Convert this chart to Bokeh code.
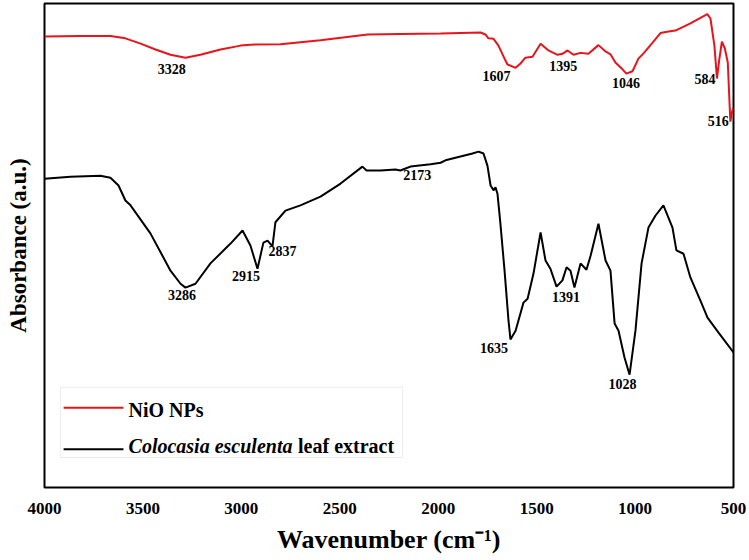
from bokeh.plotting import figure
from bokeh.models import Range1d, FixedTicker, Label, BoxAnnotation
from bokeh.embed import file_html
from bokeh.resources import INLINE

# FTIR spectra: wavenumber (cm^-1) and absorbance (a.u.)
nio_wavenumber = [4000, 3817, 3665, 3589, 3512, 3436, 3360, 3284, 3208, 3106, 3004, 2954,
                  2801, 2598, 2359, 2192, 1988, 1785, 1760, 1745, 1719, 1694, 1663, 1648,
                  1607, 1582, 1557, 1521, 1480, 1440, 1394, 1369, 1343, 1313, 1277, 1237,
                  1186, 1150, 1125, 1100, 1064, 1044, 1013, 983, 957, 911, 871, 830, 795,
                  719, 633, 617, 597, 584, 573, 559, 544, 529, 516, 506, 500]
nio_absorbance = [0.932, 0.933, 0.933, 0.928, 0.917, 0.905, 0.894, 0.888, 0.894, 0.905, 0.913, 0.915,
                  0.916, 0.924, 0.936, 0.937, 0.938, 0.940, 0.936, 0.928, 0.927, 0.913, 0.886, 0.874,
                  0.867, 0.876, 0.888, 0.890, 0.917, 0.903, 0.894, 0.896, 0.903, 0.894, 0.898, 0.896,
                  0.914, 0.901, 0.895, 0.878, 0.864, 0.855, 0.860, 0.886, 0.897, 0.919, 0.939, 0.942, 0.944,
                  0.959, 0.978, 0.969, 0.913, 0.845, 0.882, 0.921, 0.907, 0.878, 0.756, 0.779, 0.783]

leaf_wavenumber = [4000, 3868, 3716, 3665, 3624, 3589, 3563, 3462, 3360, 3309, 3284, 3233,
                   3157, 3055, 2994, 2954, 2918, 2888, 2867, 2842, 2827, 2776, 2700, 2598,
                   2496, 2385, 2364, 2293, 2217, 2192, 2166, 2141, 2039, 1988, 1963, 1887,
                   1826, 1795, 1770, 1750, 1734, 1719, 1709, 1699, 1684, 1663, 1643, 1633,
                   1607, 1582, 1567, 1546, 1516, 1480, 1455, 1430, 1399, 1369, 1348, 1328,
                   1308, 1277, 1247, 1226, 1186, 1150, 1125, 1104, 1084, 1054, 1028, 998,
                   967, 932, 896, 856, 810, 790, 754, 719, 668, 632, 576, 500]
leaf_absorbance = [0.638, 0.642, 0.644, 0.640, 0.624, 0.593, 0.583, 0.525, 0.448, 0.421, 0.413, 0.421,
                   0.463, 0.504, 0.531, 0.500, 0.452, 0.506, 0.510, 0.498, 0.548, 0.572, 0.583, 0.601,
                   0.628, 0.663, 0.655, 0.655, 0.657, 0.655, 0.659, 0.663, 0.668, 0.671, 0.676, 0.684,
                   0.690, 0.694, 0.690, 0.665, 0.624, 0.614, 0.620, 0.607, 0.545, 0.448, 0.345, 0.306,
                   0.324, 0.360, 0.382, 0.390, 0.442, 0.527, 0.469, 0.452, 0.415, 0.428, 0.455, 0.448,
                   0.413, 0.463, 0.450, 0.479, 0.545, 0.469, 0.448, 0.339, 0.324, 0.269, 0.233, 0.324,
                   0.463, 0.537, 0.562, 0.583, 0.537, 0.490, 0.483, 0.434, 0.386, 0.351, 0.320, 0.279]

# Band assignments (peak wavenumber, label height in a.u., horizontal nudge in px)
nio_peaks = [3328, 1607, 1395, 1046, 584, 516]
nio_peak_label_y = [0.864, 0.851, 0.870, 0.835, 0.843, 0.758]
nio_peak_nudge = [-5, -19, 6, 0, -12, -12]

leaf_peaks = [3286, 2915, 2837, 2173, 1635, 1391, 1028]
leaf_peak_label_y = [0.397, 0.436, 0.488, 0.645, 0.289, 0.393, 0.213]
leaf_peak_nudge = [-3, -12, 9, 13, -16, 8, -7]

x_ticks = [4000, 3500, 3000, 2500, 2000, 1500, 1000, 500]

SERIF = "Liberation Serif"
RED = "#e8141c"

p = figure(width=749, height=560, output_backend="svg", toolbar_location=None,
           x_range=Range1d(4000, 500), y_range=Range1d(0, 1),
           min_border_left=44, min_border_right=16, min_border_top=3, min_border_bottom=73)

p.outline_line_color = "black"
p.outline_line_width = 2
p.xgrid.visible = False
p.ygrid.visible = False
p.background_fill_color = "white"
p.border_fill_color = "white"

p.line(nio_wavenumber, nio_absorbance, line_color=RED, line_width=2)
p.line(leaf_wavenumber, leaf_absorbance, line_color="black", line_width=2)

# Axes
xa = p.xaxis[0]
xa.ticker = FixedTicker(ticks=x_ticks)
xa.axis_line_color = None
xa.major_tick_out = 0
xa.major_tick_in = 0
xa.minor_tick_out = 0
xa.minor_tick_in = 0
xa.major_label_standoff = 15
xa.major_label_text_font = SERIF
xa.major_label_text_font_style = "bold"
xa.major_label_text_font_size = "17px"
xa.major_label_text_color = "black"
xa.axis_label = "Wavenumber (cm\u207b\u00b9)"
xa.axis_label_text_font = SERIF
xa.axis_label_text_font_style = "bold"
xa.axis_label_text_font_size = "26px"
xa.axis_label_text_color = "black"
xa.axis_label_standoff = 8

ya = p.yaxis[0]
ya.ticker = FixedTicker(ticks=[])
ya.axis_line_color = None
ya.major_tick_out = 0
ya.major_tick_in = 0
ya.minor_tick_out = 0
ya.minor_tick_in = 0
ya.axis_label = "Absorbance (a.u.)"
ya.axis_label_text_font = SERIF
ya.axis_label_text_font_style = "bold"
ya.axis_label_text_font_size = "23px"
ya.axis_label_text_color = "black"
ya.axis_label_standoff = 14


def add_peak_labels(peaks, heights, nudges):
    for wn, yy, dx in zip(peaks, heights, nudges):
        p.add_layout(Label(x=wn, y=yy, x_offset=dx, text=str(wn),
                           text_font=SERIF, text_font_style="bold",
                           text_font_size="14px", text_color="black",
                           text_align="center", text_baseline="middle"))


add_peak_labels(nio_peaks, nio_peak_label_y, nio_peak_nudge)
add_peak_labels(leaf_peaks, leaf_peak_label_y, leaf_peak_nudge)

# Legend box with mixed italic / upright entry text
p.add_layout(BoxAnnotation(left=3919, right=2181, bottom=0.062, top=0.207,
                           fill_color=None, line_color="#c4c4c4", line_width=1))
p.line([3903, 3599], [0.165, 0.165], line_color=RED, line_width=2)
p.line([3903, 3599], [0.079, 0.079], line_color="black", line_width=2)
p.add_layout(Label(x=3573, y=0.161, text="NiO NPs", text_font=SERIF,
                   text_font_style="bold", text_font_size="20px", text_color="black",
                   text_align="left", text_baseline="middle"))
p.add_layout(Label(x=3573, y=0.086, text="Colocasia esculenta", text_font=SERIF,
                   text_font_style="bold italic", text_font_size="20px", text_color="black",
                   text_align="left", text_baseline="middle"))
p.add_layout(Label(x=2712, y=0.086, text="leaf extract", text_font=SERIF,
                   text_font_style="bold", text_font_size="20px", text_color="black",
                   text_align="left", text_baseline="middle"))

open("out.html", "w").write(file_html(p, INLINE))
